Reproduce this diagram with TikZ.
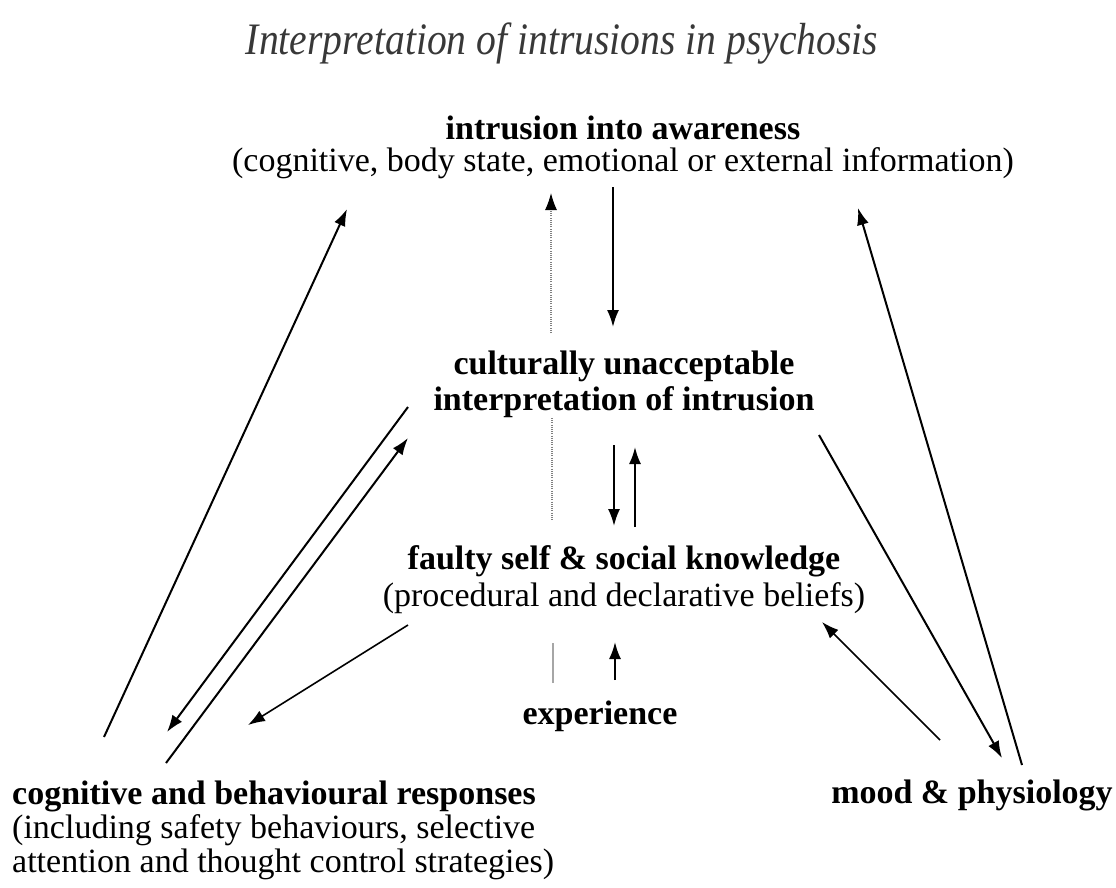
\documentclass[tikz,border=0pt]{standalone}
\usepackage{fontspec}
\setmainfont{Liberation Serif}
\usetikzlibrary{arrows.meta}
\begin{document}
\begin{tikzpicture}[x=1pt,y=-1pt,
  lbl/.style={inner sep=0pt, align=center},
  arr/.style={line width=2pt, -{Latex[length=17pt,width=12pt]}},
  thinarr/.style={line width=1.6pt, -{Latex[length=17pt,width=12pt]}},
  dotarr/.style={gray, line width=1.2pt, dash pattern=on 1pt off 1.2pt,
                 -{Latex[length=17pt,width=12pt,black]}},
  dotline/.style={gray, line width=1.2pt, dash pattern=on 1pt off 1.2pt},
  greyline/.style={gray!70, line width=1.2pt}]
\path[use as bounding box] (0,0) rectangle (1116,887);

% title
\node[inner sep=0pt, text=black!78] (title) at (562,44)
  {\fontsize{45}{45}\selectfont\itshape\scalebox{0.88}[1]{Interpretation of intrusions in psychosis}};

% boxes of text
\node[lbl, font=\fontsize{34}{32}\selectfont] (intr) at (623,147)
  {\textbf{intrusion into awareness}\\(cognitive, body state, emotional or external information)};
\node[lbl, font=\fontsize{34}{36}\selectfont\bfseries] (cult) at (624,384)
  {culturally unacceptable\\interpretation of intrusion};
\node[lbl, font=\fontsize{34}{37}\selectfont] (faulty) at (624,580)
  {\textbf{faulty self \& social knowledge}\\(procedural and declarative beliefs)};
\node[lbl, font=\fontsize{34}{36}\selectfont\bfseries] (exp) at (600,716) {experience};
\node[lbl, align=left, anchor=west, font=\fontsize{34}{34}\selectfont] (cog) at (12,830)
  {\textbf{cognitive and behavioural responses}\\(including safety behaviours, selective\\attention and thought control strategies)};
\node[lbl, font=\fontsize{34}{36}\selectfont\bfseries] (mood) at (972,795) {mood \& physiology};

% connector ends
\coordinate (cogA) at (104,737);   \coordinate (intrA) at (347,209);
\coordinate (intrB) at (613,187);  \coordinate (cultB) at (613,327);
\coordinate (cultC) at (551,333);  \coordinate (intrC) at (551,193);
\coordinate (cultD) at (614,445);  \coordinate (faultyD) at (614,526);
\coordinate (faultyE) at (635,527);\coordinate (cultE) at (635,447);
\coordinate (cultF) at (552,418);  \coordinate (faultyF) at (552,520);
\coordinate (expG) at (615,680);   \coordinate (faultyG) at (615,642);
\coordinate (expH) at (553,683);   \coordinate (faultyH) at (553,643);
\coordinate (cultI) at (408,407);  \coordinate (cogI) at (167,732);
\coordinate (cogJ) at (166,763);   \coordinate (cultJ) at (408,438);
\coordinate (faultyK) at (408,625);\coordinate (cogK) at (248,725);
\coordinate (cultL) at (819,435);  \coordinate (moodL) at (1002,758);
\coordinate (moodM) at (1022,765); \coordinate (intrM) at (858,208);
\coordinate (moodN) at (940,740);  \coordinate (faultyN) at (822,622);

% connectors
\draw[arr] (cogA) -- (intrA);
\draw[arr] (intrB) -- (cultB);
\draw[dotarr] (cultC) -- (intrC);
\draw[arr] (cultD) -- (faultyD);
\draw[arr] (faultyE) -- (cultE);
\draw[dotline] (cultF) -- (faultyF);
\draw[arr] (expG) -- (faultyG);
\draw[greyline] (expH) -- (faultyH);
\draw[arr] (cultI) -- (cogI);
\draw[arr] (cogJ) -- (cultJ);
\draw[thinarr] (faultyK) -- (cogK);
\draw[arr] (cultL) -- (moodL);
\draw[arr] (moodM) -- (intrM);
\draw[thinarr] (moodN) -- (faultyN);
\end{tikzpicture}
\end{document}
